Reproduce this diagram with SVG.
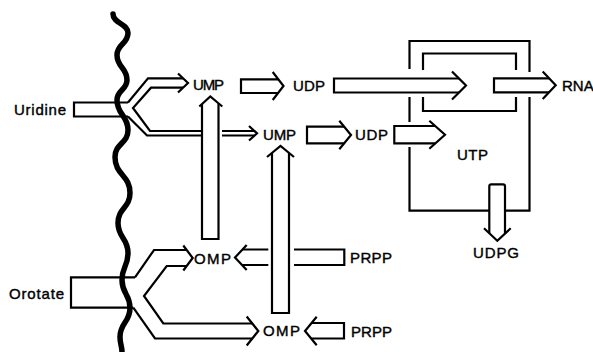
<svg xmlns="http://www.w3.org/2000/svg" width="593" height="352" viewBox="0 0 593 352">
<style>
.ln{fill:none;stroke:#000;stroke-width:2.2;stroke-linejoin:miter;stroke-linecap:butt}
.lb{font-family:"Liberation Sans",Arial,Helvetica,sans-serif;font-size:15px;fill:#000;stroke:#000;stroke-width:0.4}
.mem{fill:none;stroke:#000;stroke-width:5.5;stroke-linecap:round;stroke-linejoin:round}
</style>
<rect width="593" height="352" fill="#fff"/>
<g id="connectors">
  <!-- Uridine entry and split -->
  <path class="ln" d="M128,102.5 H74 V116.5 H128"/>
  <path class="ln" d="M128,102.5 L148,78.3 H183"/>
  <path class="ln" d="M178,73.5 L188,83 L178,92.5"/>
  <path class="ln" d="M183,87.7 H151 L133,108 L150,131 H202"/>
  <path class="ln" d="M128,116.5 L147,135.5 H202"/>
  <path class="ln" d="M222,131 H254.5 M222,135.5 H254.5"/>
  <path class="ln" d="M249,126 L257,133.3 L249,140.5"/>
  <!-- OMP -> UMP (upper) -->
  <path class="ln" d="M202,104 V239 H218.5 V103.3"/>
  <path class="ln" d="M199.3,106.5 L210.3,96.5 L222.3,106.5"/>
  <!-- OMP -> UMP (lower) -->
  <path class="ln" d="M272,152.9 V313 H289 V152.9"/>
  <path class="ln" d="M267,157 L280.5,146 L294,157"/>
  <!-- UMP -> UDP (upper) -->
  <path class="ln" d="M278.2,79.3 H241 V93 H278.2"/>
  <path class="ln" d="M272.7,72 L283.5,86 L272.7,100"/>
  <!-- UDP -> pool -->
  <path class="ln" d="M459,78.5 H334 V92.5 H459"/>
  <path class="ln" d="M452,71.5 L466,85.5 L452,99.5"/>
  <!-- pool -> RNA -->
  <path class="ln" d="M549,78.3 H494 V92.3 H549"/>
  <path class="ln" d="M542.7,71.5 L555.7,85.3 L542.7,99"/>
  <!-- UMP -> UDP (lower) -->
  <path class="ln" d="M344.2,126.7 H307 V143.3 H344.2"/>
  <path class="ln" d="M339.3,120.7 L351,135 L339.3,149.3"/>
  <!-- UDP -> UTP -->
  <path class="ln" d="M435.2,126 H394.3 V143.3 H435.2"/>
  <path class="ln" d="M429.3,120.7 L445,134.7 L429.3,148.7"/>
  <!-- UTP -> UDPG -->
  <path class="ln" d="M489.3,233.2 V186.3 Q489.3,184.3 491.3,184.3 H503 Q505,184.3 505,186.3 V233.4"/>
  <path class="ln" d="M484,228.3 L497.3,240.7 L510.7,228.3"/>
  <!-- Orotate entry and split -->
  <path class="ln" d="M135,277.3 H71 V307.7 H133.3"/>
  <path class="ln" d="M135,277.3 L154,250 H186.7"/>
  <path class="ln" d="M183.3,245.5 L192.7,258 L183.3,270.5"/>
  <path class="ln" d="M186.7,266 H166.7 L144,296 L163.3,323.5 H252.3"/>
  <path class="ln" d="M133.3,307.7 L155,338.5 H252.3"/>
  <path class="ln" d="M246.7,316.5 L258.3,331 L246.7,345.5"/>
  <!-- PRPP -> OMP (upper) -->
  <path class="ln" d="M294,249.5 H344.3 V265 H294"/>
  <path class="ln" d="M268.3,249.5 H242.5 M268.3,265 H242"/>
  <path class="ln" d="M246.7,245 L235,257.5 L246.7,270"/>
  <!-- PRPP -> OMP (lower) -->
  <path class="ln" d="M311.3,323 H344 V338.5 H311.3"/>
  <path class="ln" d="M316.7,316.7 L305,331 L316.7,345.3"/>
</g>
<g id="node-utp-pool">
  <path class="ln" d="M409.5,69 V41 H529.5 V72 M409.5,97 V122 M409.5,147 V210.7 H489.3 M505,210.7 H529.5 V97"/>
  <path class="ln" d="M423,70 V53.5 H516 V70 M423,97 V111 H516 V97"/>
  <text class="lb" x="457" y="160" textLength="31" lengthAdjust="spacing">UTP</text>
</g>
<g id="membrane">
  <path class="mem" d="M113,14 C113,23.5 128,23.5 128,33 C128,44 117,44 117,55 C117,67.5 127,67.5 127,80 C127,90 117,90 117,100 C117,115 128,115 128,130 C128,143.5 115,143.5 115,157 C115,175 130,175 130,193 C130,208 118,208 118,223 C118,238 128,238 128,253 C128,266.5 122,266.5 122,280 C122,294 130,294 130,308 C130,322.5 120,322.5 120,337 C120,344 122,346 122,352"/>
</g>
<g id="node-uridine"><text class="lb" x="14" y="115" textLength="52" lengthAdjust="spacing">Uridine</text></g>
<g id="node-orotate"><text class="lb" x="9" y="299" textLength="55" lengthAdjust="spacing">Orotate</text></g>
<g id="node-ump1"><text class="lb" x="193" y="90" textLength="31" lengthAdjust="spacing">UMP</text></g>
<g id="node-ump2"><text class="lb" x="263" y="140" textLength="33" lengthAdjust="spacing">UMP</text></g>
<g id="node-udp1"><text class="lb" x="293" y="91" textLength="32" lengthAdjust="spacing">UDP</text></g>
<g id="node-udp2"><text class="lb" x="355" y="140" textLength="33" lengthAdjust="spacing">UDP</text></g>
<g id="node-rna"><text class="lb" x="562" y="91">RNA</text></g>
<g id="node-udpg"><text class="lb" x="473" y="258" textLength="46" lengthAdjust="spacing">UDPG</text></g>
<g id="node-omp1"><text class="lb" x="194" y="264" textLength="37" lengthAdjust="spacing">OMP</text></g>
<g id="node-omp2"><text class="lb" x="263" y="336" textLength="37" lengthAdjust="spacing">OMP</text></g>
<g id="node-prpp1"><text class="lb" x="350" y="263" textLength="42" lengthAdjust="spacing">PRPP</text></g>
<g id="node-prpp2"><text class="lb" x="351" y="337" textLength="41" lengthAdjust="spacing">PRPP</text></g>
</svg>
